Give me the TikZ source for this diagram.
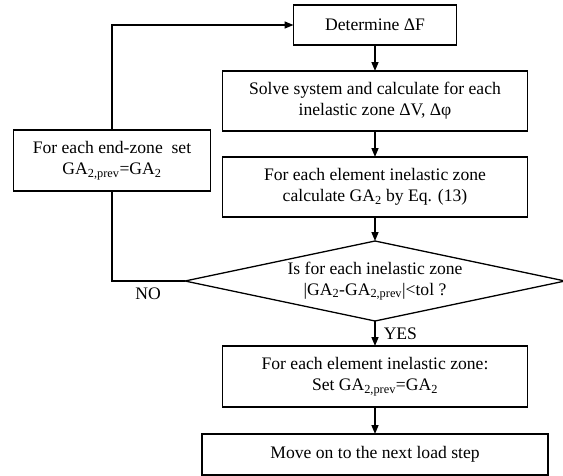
\documentclass[tikz,border=0pt]{standalone}
\usepackage{fontspec}
\setmainfont{Liberation Serif}
\usetikzlibrary{shapes.geometric, arrows.meta, positioning, calc}

\begin{document}
\begin{tikzpicture}[
    x=1pt, y=-1pt,
    font=\fontsize{17.6}{21}\selectfont,
    node distance=26pt,
    box/.style={draw, rectangle, minimum width=305pt, minimum height=60pt, align=center, line width=1.3pt, inner sep=2pt, outer sep=0pt, fill=white},
    decision/.style={draw, diamond, aspect=4.75, minimum width=380pt, minimum height=80pt, align=center, line width=1.3pt, inner sep=0pt, outer sep=0pt},
    arrow/.style={-{Triangle[length=9pt,width=7pt]}, line width=1.5pt},
    line/.style={line width=1.5pt},
    labelstyle/.style={inner sep=0pt}
]

\useasboundingbox (0,0) rectangle (563,475);

% Main column
\node[box, minimum width=163pt, minimum height=40pt] (determine) at (375,25) {Determine ΔF};
\node[box, below=26pt of determine] (solve) {Solve system and calculate for each\\inelastic zone ΔV, Δφ};
\node[box, below=26pt of solve] (calcga) {For each element inelastic zone\\calculate GA\textsubscript{2} by Eq. (13)};
\node[decision, below=24pt of calcga] (check) {Is for each inelastic zone\\|GA\textsubscript{2}-GA\textsubscript{2,prev}|<tol ?};
\node[box, minimum height=61pt, below=25pt of check] (update) {For each element inelastic zone:\\Set GA\textsubscript{2,prev}=GA\textsubscript{2}};
\node[box, minimum width=346pt, minimum height=41pt, below=27pt of update] (nextstep) {Move on to the next load step};

% Loop back
\node[box, minimum width=197pt, minimum height=61pt] (setprev) at (112,160.5) {For each end-zone\ \ set\\GA\textsubscript{2,prev}=GA\textsubscript{2}};

% Labels
\node[labelstyle, anchor=north east] (no) at ($(check.west)+(-24,7)$) {NO};

% Connections
\draw[arrow] (determine) -- (solve);
\draw[arrow] (solve) -- (calcga);
\draw[arrow] (calcga) -- (check);
\draw[arrow] (check) -- node[labelstyle, right=8pt] (yes) {YES} (update);
\draw[arrow] (update) -- (nextstep);
\draw[line] (check.west) -| (setprev.south);
\draw[arrow] (setprev.north) |- (determine.west);

\end{tikzpicture}
\end{document}
